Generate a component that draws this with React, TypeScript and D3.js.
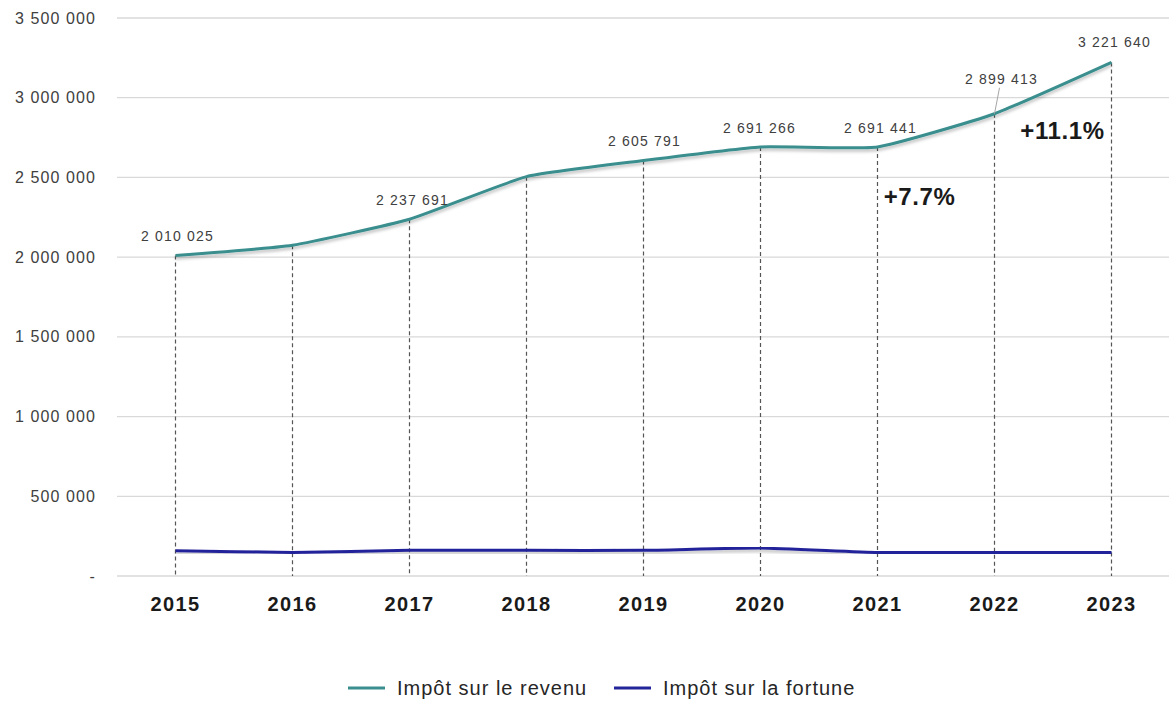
import React from "react";
import * as d3 from "d3";

const years = ["2015", "2016", "2017", "2018", "2019", "2020", "2021", "2022", "2023"];
const revenu = [2010025, 2075000, 2237691, 2505000, 2605791, 2691266, 2691441, 2899413, 3221640];
const fortune = [159000, 148000, 161000, 161000, 161000, 176000, 148000, 148000, 148000];
const yTicks = [0, 500000, 1000000, 1500000, 2000000, 2500000, 3000000, 3500000];
const labelYears = ["2015", "2017", "2019", "2020", "2021", "2022", "2023"];
const labelOffsets: Record<string, [number, number]> = {
  "2015": [2, -19],
  "2017": [3, -19],
  "2019": [1, -19],
  "2020": [-1, -19],
  "2021": [3, -19],
  "2022": [7, -35],
  "2023": [3, -20],
};
const growthNotes = [
  { year: "2021", text: "+7.7%", dx: 42, value: 2377000 },
  { year: "2022", text: "+11.1%", dx: 68, value: 2792000 },
];
const seriesNames = ["Impôt sur le revenu", "Impôt sur la fortune"];

const W = 1169;
const H = 702;
const left = 117;
const right = 1170;
const top = 18;
const bottom = 576;
const teal = "#3A8E8E";
const navy = "#24249A";
const font = "'Liberation Sans', Arial, sans-serif";

const fmt = (v: number) => {
  if (v === 0) return "-";
  const s = Math.round(v).toString();
  return s.replace(/\B(?=(\d{3})+(?!\d))/g, " ");
};

export default function App() {
  const x = d3.scaleBand<string>().domain(years).range([left, right]);
  const cx = (yr: string) => (x(yr) as number) + x.bandwidth() / 2;
  const y = d3.scaleLinear().domain([0, 3500000]).range([bottom, top]);

  const line = d3
    .line<number>()
    .x((_, i) => cx(years[i]))
    .y((d) => y(d))
    .curve(d3.curveCardinal.tension(0.55));

  return (
    <svg width={W} height={H} style={{ position: "absolute", left: 0, top: 0, background: "#fff" }}>
      <defs>
        <filter id="sh" x="-5%" y="-20%" width="110%" height="140%">
          <feDropShadow dx="0" dy="2.5" stdDeviation="1.5" floodColor="#000" floodOpacity="0.25" />
        </filter>
      </defs>
      {yTicks.map((t) => (
        <g key={t}>
          <line x1={left} x2={right} y1={y(t)} y2={y(t)} stroke="#D9D9D9" strokeWidth={1.3} />
          <text
            x={96}
            y={y(t)}
            dy="0.35em"
            textAnchor="end"
            fontFamily={font}
            fontSize={16}
            fill="#404040"
            letterSpacing={1.1}
          >
            {fmt(t)}
          </text>
        </g>
      ))}
      {years.map((yr, i) => (
        <line
          key={yr}
          x1={cx(yr)}
          x2={cx(yr)}
          y1={y(revenu[i])}
          y2={bottom}
          stroke="#555"
          strokeWidth={1.2}
          strokeDasharray="4,3"
        />
      ))}
      {years.map((yr) => (
        <text
          key={yr}
          x={cx(yr)}
          y={604}
          dy="0.35em"
          textAnchor="middle"
          fontFamily={font}
          fontSize={20}
          fontWeight="bold"
          fill="#1a1a1a"
          letterSpacing={1.4}
        >
          {yr}
        </text>
      ))}
      <path d={line(revenu) || ""} fill="none" stroke={teal} strokeWidth={3} filter="url(#sh)" />
      <path d={line(fortune) || ""} fill="none" stroke={navy} strokeWidth={3} filter="url(#sh)" />
      {labelYears.map((yr) => {
        const i = years.indexOf(yr);
        const [dx, dy] = labelOffsets[yr];
        return (
          <text
            key={yr}
            x={cx(yr) + dx}
            y={y(revenu[i]) + dy}
            dy="0.35em"
            textAnchor="middle"
            fontFamily={font}
            fontSize={14}
            fill="#404040"
            letterSpacing={1.2}
          >
            {fmt(revenu[i])}
          </text>
        );
      })}
      {(() => {
        const i = years.indexOf("2022");
        return (
          <line
            x1={cx("2022") + 5}
            y1={y(revenu[i]) - 26}
            x2={cx("2022")}
            y2={y(revenu[i])}
            stroke="#A6A6A6"
            strokeWidth={1}
          />
        );
      })()}
      {growthNotes.map((g) => (
        <text
          key={g.text}
          x={cx(g.year) + g.dx}
          y={y(g.value)}
          dy="0.35em"
          textAnchor="middle"
          fontFamily={font}
          fontSize={24}
          fontWeight="bold"
          fill="#1a1a1a"
          letterSpacing={0.6}
        >
          {g.text}
        </text>
      ))}
      {seriesNames.map((n, i) => {
        const lx = i === 0 ? 348 : 614;
        return (
          <g key={n}>
            <line x1={lx} x2={lx + 37} y1={688} y2={688} stroke={i === 0 ? teal : navy} strokeWidth={3} />
            <text
              x={lx + 49}
              y={688}
              dy="0.35em"
              fontFamily={font}
              fontSize={20}
              fill="#262626"
              letterSpacing={1}
            >
              {n}
            </text>
          </g>
        );
      })}
    </svg>
  );
}
